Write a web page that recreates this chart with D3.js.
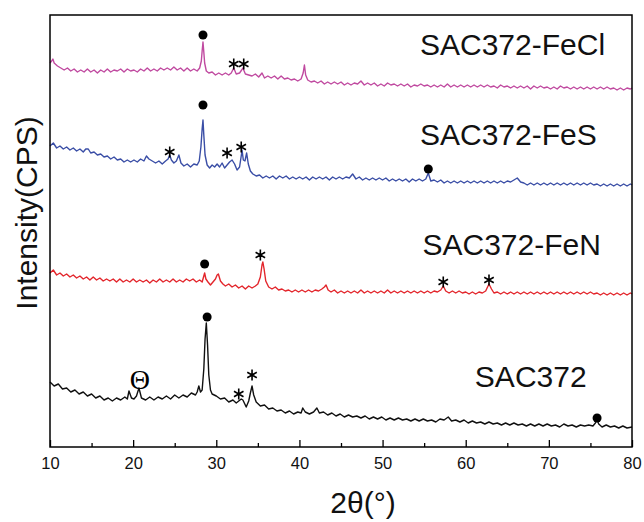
<!DOCTYPE html>
<html>
<head>
<meta charset="utf-8">
<script src="https://cdn.jsdelivr.net/npm/d3@7"></script>
<style>
  body { margin: 0; background: #fff; }
  text { font-family: "Liberation Sans", Arial, sans-serif; }
</style>
</head>
<body>
<div id="chart"></div>
<script>
// XRD patterns, 2theta (deg) vs intensity (a.u., offset per sample)
const sac372 = [[10.0,65],[10.5,61],[11.0,63],[11.5,58],[12.0,59],[12.5,55],[13.0,57],[13.5,53],[14.0,55],[14.5,51],[15.0,53],[15.5,49],[16.0,51],[16.5,47],[17.0,49],[17.5,46],[18.0,49],[18.5,47],[19.0,50],[19.3,48],[19.5,56],[19.8,49],[20.1,48],[20.4,51],[20.7,59],[21.0,49],[21.5,47],[22.0,50],[22.5,47],[23.0,50],[23.5,48],[24.0,51],[24.5,48],[25.0,52],[25.5,49],[26.0,52],[26.5,50],[27.0,54],[27.5,52],[27.7,55],[27.9,61],[28.1,55],[28.3,57],[28.5,78],[28.65,108],[28.8,124],[28.95,102],[29.1,72],[29.3,57],[29.5,53],[30.0,51],[30.5,48],[31.0,49],[31.5,45],[32.0,47],[32.4,44],[32.7,46],[33.0,48],[33.2,47],[33.6,40],[33.9,46],[34.1,54],[34.3,61],[34.5,52],[34.8,45],[35.3,41],[35.8,42],[36.3,38],[36.8,39],[37.3,36],[37.8,37],[38.3,34],[38.8,36],[39.3,33],[39.8,35],[40.2,34],[40.4,39],[40.7,35],[41.2,33],[41.7,35],[42.1,39],[42.4,34],[42.9,35],[43.4,32],[43.9,34],[44.4,31],[44.9,33],[45.4,30],[45.9,32],[46.4,30],[46.9,31],[47.4,29],[47.9,31],[48.4,28],[48.9,30],[49.4,28],[49.9,30],[50.4,27],[50.9,29],[51.4,27],[51.9,29],[52.4,27],[52.9,28],[53.4,26],[53.9,28],[54.4,26],[54.9,28],[55.4,26],[55.9,27],[56.4,25],[56.9,28],[57.4,27],[57.9,30],[58.3,26],[58.8,27],[59.3,25],[59.8,27],[60.3,24],[60.8,26],[61.3,24],[61.8,25],[62.3,23],[62.8,25],[63.3,23],[63.8,24],[64.3,22],[64.8,24],[65.3,22],[65.8,24],[66.3,22],[66.8,23],[67.3,21],[67.8,23],[68.3,21],[68.8,23],[69.3,21],[69.8,23],[70.3,21],[70.8,22],[71.3,20],[71.8,23],[72.3,21],[72.8,22],[73.3,20],[73.8,22],[74.3,21],[74.8,22],[75.3,21],[75.6,24],[75.8,27],[76.0,23],[76.4,20],[76.9,22],[77.4,20],[77.9,21],[78.4,19],[78.9,21],[79.4,19],[80.0,20]];

const sac372FeN = [[10.0,174],[10.4,177],[10.8,172],[11.2,174],[11.6,171],[12.0,173],[12.4,170],[12.8,172],[13.2,169],[13.6,171],[14.0,168],[14.4,170],[14.8,167],[15.2,170],[15.6,167],[16.0,169],[16.4,166],[16.8,168],[17.2,166],[17.6,168],[18.0,165],[18.4,168],[18.8,165],[19.2,167],[19.6,165],[20.0,168],[20.4,165],[20.8,167],[21.2,165],[21.6,167],[22.0,164],[22.4,167],[22.8,165],[23.2,168],[23.6,165],[24.0,167],[24.4,165],[24.8,168],[25.2,165],[25.6,167],[26.0,165],[26.4,168],[26.8,166],[27.2,168],[27.6,165],[28.0,167],[28.3,165],[28.5,171],[28.6,174],[28.75,168],[29.0,165],[29.3,162],[29.6,165],[29.9,168],[30.1,172],[30.25,173],[30.5,166],[30.8,163],[31.1,161],[31.5,163],[31.9,160],[32.3,162],[32.7,159],[33.1,161],[33.5,158],[33.9,161],[34.3,159],[34.7,161],[35.0,163],[35.3,170],[35.5,182],[35.6,185],[35.75,178],[35.95,166],[36.3,160],[36.7,158],[37.1,160],[37.5,157],[37.9,158],[38.3,156],[38.7,157],[39.1,155],[39.5,157],[39.9,155],[40.3,157],[40.7,155],[41.1,157],[41.5,155],[41.9,157],[42.3,156],[42.7,158],[43.0,160],[43.2,162],[43.45,157],[43.8,155],[44.2,157],[44.6,154],[45.0,156],[45.4,154],[45.8,156],[46.2,154],[46.6,156],[47.0,154],[47.4,157],[47.8,154],[48.2,156],[48.6,154],[49.0,156],[49.4,154],[49.8,156],[50.2,154],[50.6,157],[51.0,154],[51.4,156],[51.8,154],[52.2,156],[52.6,154],[53.0,156],[53.4,154],[53.8,156],[54.2,154],[54.6,156],[55.0,154],[55.4,156],[55.8,154],[56.2,156],[56.6,155],[57.0,157],[57.3,161],[57.6,156],[58.0,154],[58.4,156],[58.8,154],[59.2,156],[59.6,154],[60.0,155],[60.4,153],[60.8,155],[61.2,153],[61.6,155],[62.0,154],[62.4,156],[62.8,163],[63.1,158],[63.4,154],[63.8,155],[64.2,153],[64.6,155],[65.0,153],[65.4,155],[65.8,153],[66.2,155],[66.6,153],[67.0,155],[67.4,153],[67.8,155],[68.2,153],[68.6,155],[69.0,153],[69.4,155],[69.8,153],[70.2,155],[70.6,153],[71.0,155],[71.4,153],[71.8,155],[72.2,153],[72.6,155],[73.0,153],[73.4,155],[73.8,153],[74.2,155],[74.6,153],[75.0,155],[75.4,153],[75.8,154],[76.2,152],[76.6,154],[77.0,152],[77.4,154],[77.8,152],[78.2,154],[78.6,152],[79.0,154],[79.4,152],[79.8,154],[80.0,153]];

const sac372FeS = [[10.0,301],[10.4,304],[10.8,299],[11.2,301],[11.6,298],[12.0,300],[12.4,297],[12.8,299],[13.2,296],[13.6,298],[14.0,295],[14.3,298],[14.6,298],[14.9,294],[15.3,295],[15.7,292],[16.1,293],[16.5,290],[16.9,291],[17.3,288],[17.7,290],[18.1,287],[18.5,288],[18.9,285],[19.3,287],[19.7,285],[20.1,287],[20.5,285],[20.9,288],[21.3,286],[21.6,291],[21.9,288],[22.3,286],[22.7,284],[23.1,286],[23.5,283],[23.9,286],[24.2,288],[24.4,292],[24.6,287],[24.9,284],[25.2,286],[25.5,292],[25.75,284],[26.1,281],[26.5,283],[26.9,280],[27.3,283],[27.7,282],[27.95,286],[28.15,300],[28.3,318],[28.4,327],[28.5,312],[28.65,292],[28.9,282],[29.2,279],[29.5,282],[29.8,280],[30.1,283],[30.4,280],[30.7,284],[31.0,279],[31.3,282],[31.6,285],[31.9,287],[32.2,283],[32.5,277],[32.8,280],[33.0,291],[33.1,297],[33.25,287],[33.45,286],[33.65,294],[33.85,283],[34.1,276],[34.4,273],[34.8,271],[35.2,272],[35.6,269],[36.0,271],[36.4,269],[36.8,271],[37.2,268],[37.6,271],[38.0,269],[38.4,271],[38.8,268],[39.2,270],[39.6,268],[40.0,270],[40.4,268],[40.8,270],[41.2,267],[41.6,270],[42.0,268],[42.4,270],[42.8,268],[43.2,270],[43.6,267],[44.0,270],[44.4,268],[44.8,270],[45.2,268],[45.6,270],[46.0,269],[46.4,273],[46.8,268],[47.2,270],[47.6,267],[48.0,269],[48.4,267],[48.8,269],[49.2,267],[49.6,269],[50.0,267],[50.4,269],[50.8,266],[51.2,268],[51.6,266],[52.0,268],[52.4,266],[52.8,268],[53.2,265],[53.6,268],[54.0,266],[54.4,268],[54.8,266],[55.2,268],[55.5,274],[55.8,266],[56.2,267],[56.6,265],[57.0,267],[57.4,264],[57.8,266],[58.2,264],[58.6,266],[59.0,264],[59.4,266],[59.8,264],[60.2,266],[60.6,264],[61.0,266],[61.4,264],[61.8,266],[62.2,264],[62.6,266],[63.0,264],[63.4,266],[63.8,264],[64.2,266],[64.6,264],[65.0,266],[65.4,265],[65.8,267],[66.2,269],[66.6,265],[67.0,264],[67.4,262],[67.8,264],[68.2,262],[68.6,264],[69.0,262],[69.4,264],[69.8,262],[70.2,264],[70.6,262],[71.0,264],[71.4,262],[71.8,264],[72.2,262],[72.6,264],[73.0,262],[73.4,264],[73.8,262],[74.2,264],[74.6,262],[75.0,264],[75.4,262],[75.8,263],[76.2,261],[76.6,263],[77.0,261],[77.4,263],[77.8,261],[78.2,263],[78.6,261],[79.0,263],[79.4,261],[79.8,263],[80.0,262]];

const sac372FeCl = [[10.0,384],[10.2,386],[10.35,388],[10.5,384],[10.9,381],[11.3,379],[11.7,377],[12.1,379],[12.5,376],[12.9,378],[13.3,375],[13.7,377],[14.1,375],[14.5,378],[14.9,375],[15.3,377],[15.7,374],[16.1,377],[16.5,375],[16.9,378],[17.3,375],[17.7,377],[18.1,376],[18.5,378],[18.9,375],[19.3,378],[19.7,376],[20.1,377],[20.5,375],[20.9,378],[21.3,376],[21.7,379],[22.1,376],[22.5,378],[22.9,376],[23.3,379],[23.7,377],[24.1,379],[24.5,377],[24.9,380],[25.3,377],[25.7,379],[26.1,376],[26.5,379],[26.9,376],[27.3,378],[27.7,376],[28.0,379],[28.2,386],[28.3,396],[28.4,405],[28.5,395],[28.6,384],[28.8,376],[29.1,374],[29.5,375],[29.9,372],[30.3,374],[30.7,372],[31.1,374],[31.5,372],[31.8,374],[32.1,379],[32.4,373],[32.8,374],[33.05,377],[33.2,379],[33.5,373],[33.9,372],[34.3,371],[34.7,373],[35.1,370],[35.5,374],[35.8,369],[36.2,371],[36.6,369],[37.0,371],[37.4,368],[37.8,371],[38.2,368],[38.6,369],[39.0,367],[39.4,368],[39.8,366],[40.2,368],[40.45,374],[40.6,382],[40.75,372],[41.0,367],[41.4,365],[41.8,366],[42.2,364],[42.6,366],[43.0,363],[43.4,365],[43.8,363],[44.2,365],[44.6,363],[45.0,365],[45.4,362],[45.8,364],[46.2,362],[46.6,364],[47.0,363],[47.4,366],[47.8,362],[48.2,364],[48.6,362],[49.0,364],[49.4,361],[49.8,363],[50.2,361],[50.6,364],[51.0,362],[51.4,363],[51.8,361],[52.2,363],[52.6,361],[53.0,363],[53.4,360],[53.8,362],[54.2,361],[54.6,363],[55.0,361],[55.4,362],[55.8,360],[56.2,362],[56.6,360],[57.0,362],[57.4,360],[57.8,363],[58.2,360],[58.6,362],[59.0,360],[59.4,362],[59.8,360],[60.2,362],[60.6,360],[61.0,362],[61.4,360],[61.8,362],[62.2,360],[62.6,362],[63.0,360],[63.4,361],[63.8,359],[64.2,362],[64.6,360],[65.0,361],[65.4,359],[65.8,361],[66.2,359],[66.6,361],[67.0,359],[67.4,361],[67.8,358],[68.2,361],[68.6,359],[69.0,361],[69.4,359],[69.8,360],[70.2,358],[70.6,360],[71.0,358],[71.4,361],[71.8,359],[72.2,360],[72.6,358],[73.0,360],[73.4,358],[73.8,360],[74.2,358],[74.6,360],[75.0,358],[75.4,360],[75.8,358],[76.2,360],[76.6,358],[77.0,360],[77.4,358],[77.8,359],[78.2,357],[78.6,359],[79.0,357],[79.4,359],[79.8,358],[80.0,359]];

const sampleNames = ["SAC372", "SAC372-FeN", "SAC372-FeS", "SAC372-FeCl"];
const xTicks = [10, 20, 30, 40, 50, 60, 70, 80];
const xMinorTicks = [15, 25, 35, 45, 55, 65, 75];

// phase markers: [2theta, intensity]
const dotMarks = [[28.9,130],[75.8,29],[28.6,183],[28.4,342],[55.5,278],[28.4,412]];
const starMarks = [[32.7,53],[34.3,72],[35.3,192],[57.3,165],[62.8,167],[24.4,295],[31.3,294],[33.0,300],[32.1,383],[33.3,383]];
const thetaMarks = [[20.8,68]];

// label anchors in data units: [2theta, intensity]
const labelAnchors = [[61.1,60],[54.8,192],[54.5,302],[54.5,392]];
const colors = ["#111111", "#e3262c", "#3a4ea6", "#c04aa0"];

const svgWidth = 644, svgHeight = 522;
const margin = { top: 15, right: 12, bottom: 75, left: 50 };
const width = svgWidth - margin.left - margin.right;
const height = svgHeight - margin.top - margin.bottom;

const svg = d3.select("#chart").append("svg")
  .attr("width", svgWidth)
  .attr("height", svgHeight)
  .style("background", "#fff");

const g = svg.append("g").attr("transform", `translate(${margin.left},${margin.top})`);

const x = d3.scaleLinear().domain([10, 80]).range([0, width]);
const y = d3.scaleLinear().domain([0, 432]).range([height, 0]);

const line = d3.line().x(d => x(d[0])).y(d => y(d[1]));

[sac372, sac372FeN, sac372FeS, sac372FeCl].forEach((data, i) => {
  g.append("path")
    .datum(data)
    .attr("fill", "none")
    .attr("stroke", colors[i])
    .attr("stroke-width", 1.4)
    .attr("stroke-linejoin", "round")
    .attr("d", line);

  g.append("text")
    .attr("x", x(labelAnchors[i][0]))
    .attr("y", y(labelAnchors[i][1]))
    .attr("font-size", 30)
    .attr("fill", "#111")
    .text(sampleNames[i]);
});

// markers
g.selectAll(".dot").data(dotMarks).join("circle")
  .attr("cx", d => x(d[0]))
  .attr("cy", d => y(d[1]))
  .attr("r", 4.5)
  .attr("fill", "#000");

const starPath = d3.path();
[90, 30, 150].forEach(a => {
  const r = 5.5, rad = a * Math.PI / 180;
  starPath.moveTo(-r * Math.cos(rad), -r * Math.sin(rad));
  starPath.lineTo(r * Math.cos(rad), r * Math.sin(rad));
});
g.selectAll(".star").data(starMarks).join("path")
  .attr("transform", d => `translate(${x(d[0])},${y(d[1])})`)
  .attr("d", starPath.toString())
  .attr("stroke", "#000")
  .attr("stroke-width", 1.6);

g.selectAll(".theta").data(thetaMarks).join("text")
  .attr("x", d => x(d[0]))
  .attr("y", d => y(d[1]))
  .attr("dy", "0.34em")
  .attr("text-anchor", "middle")
  .attr("font-size", 28)
  .style("font-family", "'Liberation Serif', serif")
  .text("Θ");

// frame
g.append("rect")
  .attr("width", width)
  .attr("height", height)
  .attr("fill", "none")
  .attr("stroke", "#000")
  .attr("stroke-width", 1.5);

// x axis
const xAxis = g.append("g")
  .attr("transform", `translate(0,${height})`)
  .call(d3.axisBottom(x).tickValues(xTicks).tickSizeInner(-7).tickSizeOuter(0).tickPadding(10));
xAxis.select(".domain").remove();
xAxis.selectAll("line").attr("stroke-width", 1.3);
xAxis.selectAll("text").attr("font-size", 16.5).attr("fill", "#111").style("font-family", "'Liberation Sans', Arial, sans-serif");

const xMinor = g.append("g")
  .attr("transform", `translate(0,${height})`)
  .call(d3.axisBottom(x).tickValues(xMinorTicks).tickSizeInner(-4).tickSizeOuter(0).tickFormat(""));
xMinor.select(".domain").remove();
xMinor.selectAll("line").attr("stroke-width", 1.3);

// axis titles
svg.append("text")
  .attr("x", 363)
  .attr("y", 513)
  .attr("text-anchor", "middle")
  .attr("font-size", 30)
  .attr("fill", "#111")
  .text("2θ(°)");

svg.append("text")
  .attr("transform", `translate(37,213) rotate(-90)`)
  .attr("text-anchor", "middle")
  .attr("font-size", 30)
  .attr("fill", "#111")
  .text("Intensity(CPS)");
</script>
</body>
</html>
